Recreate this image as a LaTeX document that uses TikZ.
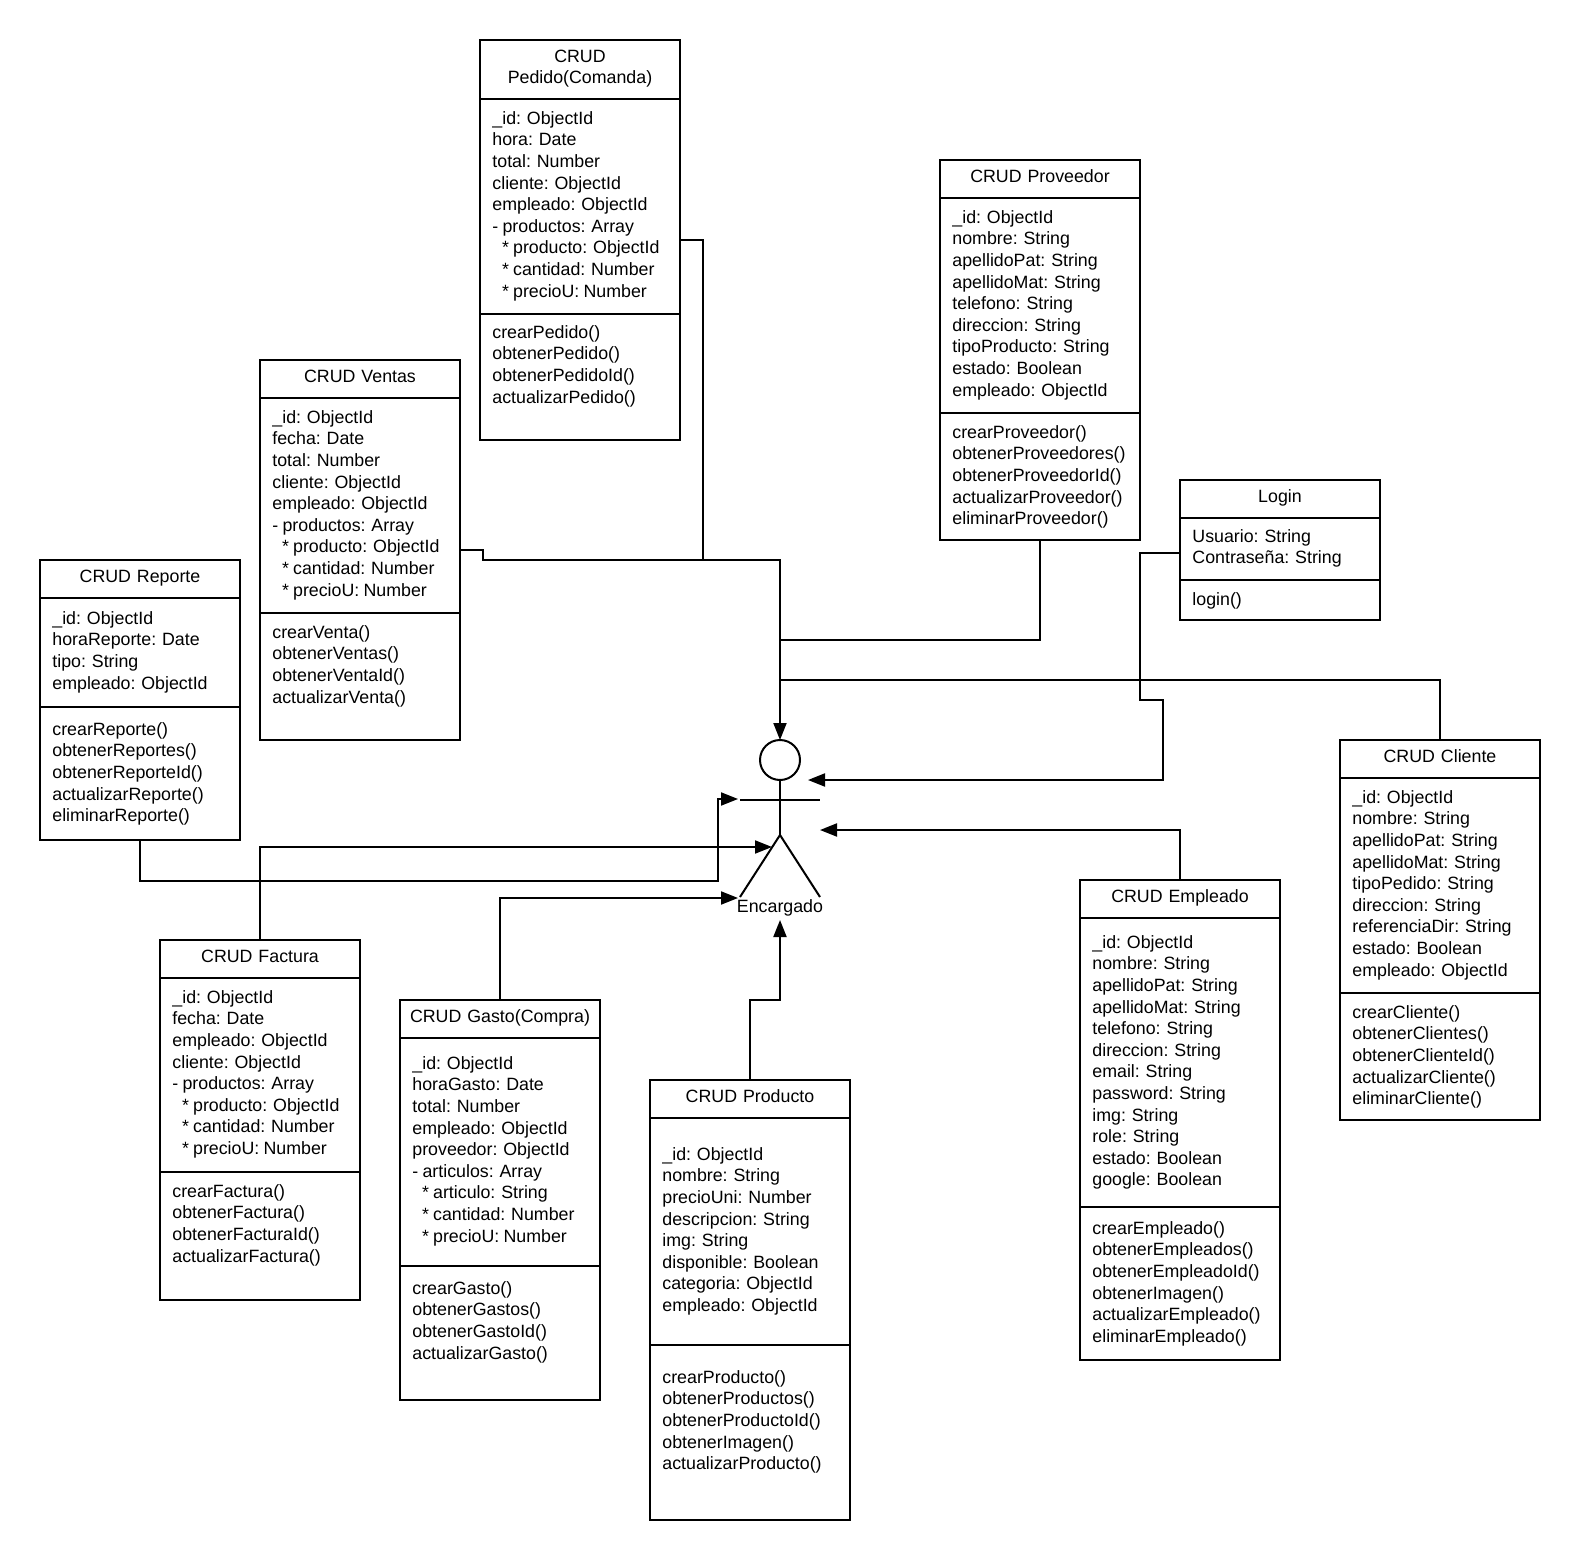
\documentclass[tikz,border=0pt]{standalone}
\usepackage{fontspec}
\setmainfont[WordSpace=0.85]{Liberation Sans}
\usetikzlibrary{arrows.meta}
\tikzset{
  x=1pt,y=-1pt,
  umlbox/.style={draw=black,line width=2pt,fill=white,rectangle,inner sep=0pt,outer sep=0pt,minimum width=200pt},
  umlsep/.style={draw=black,line width=2pt},
  umltitle/.style={anchor=north,align=center,inner sep=0pt,text width=190pt,font=\fontsize{17.8}{21.6}\selectfont},
  umltxt/.style={anchor=north west,align=left,inner sep=0pt,font=\fontsize{17.8}{21.6}\selectfont},
  conn/.style={draw=black,line width=2pt,line join=miter},
  arrowconn/.style={conn,-{Triangle[length=17pt,width=13pt]}},
  stick/.style={draw=black,line width=2pt},
}
\newcommand{\umlbox}[7]{% name,x,top,hdr,div,bot,title
  \node[umlbox,minimum height={#6-#3}] (#1) at ({#2+100},{(#3+#6)/2}) {};
  \draw[umlsep] (#1.west |- 0,#4) -- (#1.east |- 0,#4);
  \draw[umlsep] (#1.west |- 0,#5) -- (#1.east |- 0,#5);
  \node[umltitle] (#1-title) at ({#2+100},{#3+7}) {\strut #7};
}
\newcommand{\umltext}[4]{% name,x,centre of first line,lines
  \node[umltxt] (#1) at ({#2+12.2},{#3-9}) {\strut #4};
}
\newcommand{\st}{\hspace*{9.6pt}* }
\begin{document}
\begin{tikzpicture}
\useasboundingbox (0,0) rectangle (1580,1560);
\fill[white] (0,0) rectangle (1580,1560);

% Classes
\umlbox{pedido}{480}{40}{99}{314}{440}{CRUD\\Pedido(Comanda)}
\umltext{pedido-a}{480}{118}{\_id: ObjectId\\hora: Date\\total: Number\\cliente: ObjectId\\empleado: ObjectId\\- productos: Array\\\st producto: ObjectId\\\st cantidad: Number\\\st precioU: Number}
\umltext{pedido-m}{480}{332}{crearPedido()\\obtenerPedido()\\obtenerPedidoId()\\actualizarPedido()}

\umlbox{ventas}{260}{360}{398}{613}{740}{CRUD Ventas}
\umltext{ventas-a}{260}{417}{\_id: ObjectId\\fecha: Date\\total: Number\\cliente: ObjectId\\empleado: ObjectId\\- productos: Array\\\st producto: ObjectId\\\st cantidad: Number\\\st precioU: Number}
\umltext{ventas-m}{260}{632}{crearVenta()\\obtenerVentas()\\obtenerVentaId()\\actualizarVenta()}

\umlbox{reporte}{40}{560}{598}{707}{840}{CRUD Reporte}
\umltext{reporte-a}{40}{618}{\_id: ObjectId\\horaReporte: Date\\tipo: String\\empleado: ObjectId}
\umltext{reporte-m}{40}{729}{crearReporte()\\obtenerReportes()\\obtenerReporteId()\\actualizarReporte()\\eliminarReporte()}

\umlbox{factura}{160}{940}{978}{1172}{1300}{CRUD Factura}
\umltext{factura-a}{160}{997}{\_id: ObjectId\\fecha: Date\\empleado: ObjectId\\cliente: ObjectId\\- productos: Array\\\st producto: ObjectId\\\st cantidad: Number\\\st precioU: Number}
\umltext{factura-m}{160}{1191}{crearFactura()\\obtenerFactura()\\obtenerFacturaId()\\actualizarFactura()}

\umlbox{gasto}{400}{1000}{1038}{1266}{1400}{CRUD Gasto(Compra)}
\umltext{gasto-a}{400}{1063}{\_id: ObjectId\\horaGasto: Date\\total: Number\\empleado: ObjectId\\proveedor: ObjectId\\- articulos: Array\\\st articulo: String\\\st cantidad: Number\\\st precioU: Number}
\umltext{gasto-m}{400}{1288}{crearGasto()\\obtenerGastos()\\obtenerGastoId()\\actualizarGasto()}

\umlbox{producto}{650}{1080}{1118}{1345}{1520}{CRUD Producto}
\umltext{producto-a}{650}{1154}{\_id: ObjectId\\nombre: String\\precioUni: Number\\descripcion: String\\img: String\\disponible: Boolean\\categoria: ObjectId\\empleado: ObjectId}
\umltext{producto-m}{650}{1377}{crearProducto()\\obtenerProductos()\\obtenerProductoId()\\obtenerImagen()\\actualizarProducto()}

\umlbox{empleado}{1080}{880}{918}{1207}{1360}{CRUD Empleado}
\umltext{empleado-a}{1080}{942}{\_id: ObjectId\\nombre: String\\apellidoPat: String\\apellidoMat: String\\telefono: String\\direccion: String\\email: String\\password: String\\img: String\\role: String\\estado: Boolean\\google: Boolean}
\umltext{empleado-m}{1080}{1228}{crearEmpleado()\\obtenerEmpleados()\\obtenerEmpleadoId()\\obtenerImagen()\\actualizarEmpleado()\\eliminarEmpleado()}

\umlbox{cliente}{1340}{740}{778}{993}{1120}{CRUD Cliente}
\umltext{cliente-a}{1340}{797}{\_id: ObjectId\\nombre: String\\apellidoPat: String\\apellidoMat: String\\tipoPedido: String\\direccion: String\\referenciaDir: String\\estado: Boolean\\empleado: ObjectId}
\umltext{cliente-m}{1340}{1012}{crearCliente()\\obtenerClientes()\\obtenerClienteId()\\actualizarCliente()\\eliminarCliente()}

\umlbox{proveedor}{940}{160}{198}{413}{540}{CRUD Proveedor}
\umltext{proveedor-a}{940}{217}{\_id: ObjectId\\nombre: String\\apellidoPat: String\\apellidoMat: String\\telefono: String\\direccion: String\\tipoProducto: String\\estado: Boolean\\empleado: ObjectId}
\umltext{proveedor-m}{940}{432}{crearProveedor()\\obtenerProveedores()\\obtenerProveedorId()\\actualizarProveedor()\\eliminarProveedor()}

\umlbox{login}{1180}{480}{518}{580}{620}{Login}
\umltext{login-a}{1180}{536}{Usuario: String\\Contraseña: String}
\umltext{login-m}{1180}{599}{login()}

% Actor
\node[draw=black,line width=2pt,circle,inner sep=0pt,outer sep=0pt,minimum size=40pt] (actor) at (780,760) {};
\coordinate (hip) at (780,835);
\coordinate (armL) at (740,800);
\coordinate (armR) at (820,800);
\coordinate (legL) at (740,897);
\coordinate (legR) at (820,897);
\draw[stick] (actor.south) -- (hip);
\draw[stick] (armL) -- (armR);
\draw[stick] (legL) -- (hip) -- (legR);
\node[inner sep=0pt,font=\fontsize{17.8}{21.6}\selectfont] (actorname) at (780,908) {Encargado};

% Arrow tips beside the actor
\coordinate (tipTop) at (780,740);
\coordinate (tipLogin) at (808,780);
\coordinate (tipEmpleado) at (820,830);
\coordinate (tipReporte) at (738,799);
\coordinate (tipFactura) at (772,847);
\coordinate (tipGasto) at (738,898);
\coordinate (tipProducto) at (780,920);

% Connectors
\draw[arrowconn] (ventas.east) -- ++(23,0) |- (780,560) -- (tipTop);
\draw[conn] (pedido.east) -- ++(23,0) |- (703,560);
\draw[conn] (proveedor.south) |- (780,640);
\draw[conn] (cliente.north) |- (780,680);
\draw[arrowconn] ([yshift=-3pt]login.west) -- (1140,553) -- (1140,700) -- (1163,700) |- (tipLogin);
\draw[arrowconn] (empleado.north) |- (tipEmpleado);
\draw[arrowconn] (reporte.south) |- (718,881) |- (tipReporte);
\draw[arrowconn] (factura.north) |- (tipFactura);
\draw[arrowconn] (gasto.north) |- (tipGasto);
\draw[arrowconn] (producto.north) |- (780,1000) -- (tipProducto);
\end{tikzpicture}
\end{document}
